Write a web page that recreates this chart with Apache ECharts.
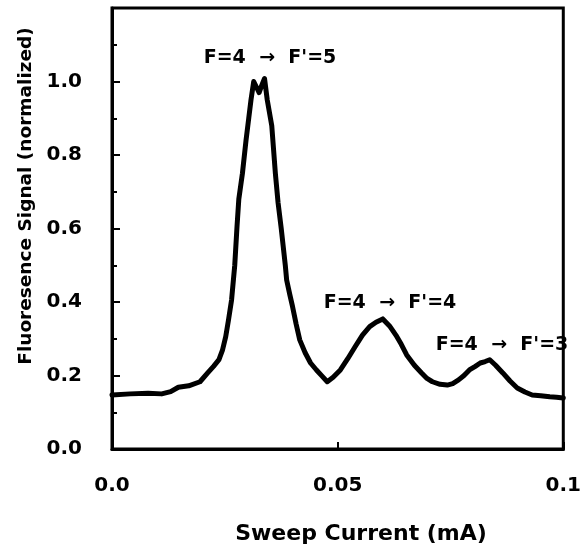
<!DOCTYPE html>
<html>
<head>
<meta charset="utf-8">
<script src="https://cdn.jsdelivr.net/npm/echarts@6/dist/echarts.min.js"></script>
<style>
html,body{margin:0;padding:0;background:#fff;}
#c{width:584px;height:556px;}
</style>
</head>
<body>
<div id="c"></div>
<script>
// Sweep current (mA)
var sweepCurrent = [0, 0.004, 0.008, 0.011, 0.013, 0.0147, 0.017, 0.0195, 0.0212, 0.0225,
  0.0237, 0.0245, 0.0252, 0.0258, 0.0265, 0.0272, 0.0277, 0.0281, 0.0289, 0.0297,
  0.0303, 0.0308, 0.0314, 0.0320, 0.0326, 0.0332, 0.0338, 0.0344, 0.0354, 0.0362,
  0.0368, 0.0375, 0.0384, 0.0387, 0.0394, 0.0400, 0.0408, 0.0416, 0.0428, 0.0440,
  0.0453, 0.0465, 0.0477, 0.0490, 0.0506, 0.0522, 0.0539, 0.0555, 0.0571, 0.0585,
  0.0600, 0.0615, 0.0629, 0.0641, 0.0653, 0.0670, 0.0686, 0.0698, 0.0710, 0.0727,
  0.0743, 0.0755, 0.0768, 0.0780, 0.0792, 0.0805, 0.0816, 0.0827, 0.0837, 0.0850,
  0.0866, 0.0882, 0.0898, 0.0915, 0.0931, 0.0950, 0.0970, 0.0985, 0.1];
// Fluorescence signal (normalized)
var signal = [0.147, 0.15, 0.152, 0.15, 0.156, 0.168, 0.172, 0.183, 0.207, 0.225,
  0.243, 0.27, 0.306, 0.35, 0.406, 0.5, 0.605, 0.68, 0.75, 0.84,
  0.90, 0.95, 1.0, 0.985, 0.97, 0.99, 1.008, 0.95, 0.88, 0.75,
  0.67, 0.6, 0.5, 0.46, 0.42, 0.388, 0.34, 0.297, 0.262, 0.234,
  0.215, 0.199, 0.183, 0.195, 0.215, 0.245, 0.279, 0.31, 0.333, 0.345,
  0.354, 0.335, 0.31, 0.285, 0.256, 0.228, 0.207, 0.192, 0.183, 0.176,
  0.174, 0.178, 0.188, 0.2, 0.215, 0.225, 0.234, 0.238, 0.243, 0.228,
  0.207, 0.185, 0.166, 0.155, 0.147, 0.145, 0.142, 0.141, 0.139];
var xTickLabels = {"0": "0.0", "0.05": "0.05", "0.1": "0.1"};
var yTickLabels = {"0": "0.0", "0.2": "0.2", "0.4": "0.4", "0.6": "0.6", "0.8": "0.8", "1": "1.0"};
var xTitle = "Sweep Current (mA)";
var yTitle = "Fluoresence Signal (normalized)";
var peakLabels = ["F=4\u2002\u2009\u2192\u2002\u2009F'=5", "F=4\u2002\u2009\u2192\u2002\u2009F'=4", "F=4\u2002\u2009\u2192\u2002\u2009F'=3"];

var pts = sweepCurrent.map(function (x, i) { return [x, signal[i]]; });
var FONT = '"DejaVu Sans", "Liberation Sans", Arial, sans-serif';

var chart = echarts.init(document.getElementById('c'), null, {renderer: 'canvas'});
chart.setOption({
  animation: false,
  backgroundColor: '#fff',
  grid: {left: 112, right: 16, top: 8, bottom: 107, show: true,
         borderColor: '#000', borderWidth: 3, backgroundColor: 'transparent'},
  xAxis: {
    type: 'value', min: 0, max: 0.1, interval: 0.05,
    axisLine: {show: true, lineStyle: {color: '#000', width: 3}},
    axisTick: {show: true, inside: true, length: 7, lineStyle: {color: '#000', width: 2}},
    splitLine: {show: false},
    axisLabel: {
      margin: 27, color: '#000', fontFamily: FONT, fontWeight: 'bold', fontSize: 20,
      formatter: function (v) { var k = String(Math.round(v * 100) / 100); return xTickLabels[k] !== undefined ? xTickLabels[k] : ''; }
    }
  },
  yAxis: {
    type: 'value', min: 0, max: 1.2, interval: 0.2,
    axisLine: {show: true, lineStyle: {color: '#000', width: 3}},
    axisTick: {show: true, inside: true, length: 8, lineStyle: {color: '#000', width: 2}},
    minorTick: {show: true, splitNumber: 2, length: 5, lineStyle: {color: '#000', width: 2}},
    splitLine: {show: false},
    axisLabel: {
      margin: 30, color: '#000', fontFamily: FONT, fontWeight: 'bold', fontSize: 20,
      formatter: function (v) { var k = String(Math.round(v * 10) / 10); return yTickLabels[k] !== undefined ? yTickLabels[k] : ''; }
    }
  },
  series: [{
    type: 'line', data: pts, showSymbol: false, smooth: false,
    lineStyle: {color: '#000', width: 5, join: 'round', cap: 'round'}
  }],
  graphic: [
    {type: 'text', x: 361, y: 534, style: {text: xTitle, font: 'bold 22px ' + FONT, fill: '#000', align: 'center', verticalAlign: 'middle'}},
    {type: 'text', x: 26, y: 196, rotation: Math.PI / 2,
     style: {text: yTitle, font: 'bold 18.5px ' + FONT, fill: '#000', align: 'center', verticalAlign: 'middle'}},
    {type: 'text', x: 270, y: 58, style: {text: peakLabels[0], font: 'bold 19px ' + FONT, fill: '#000', align: 'center', verticalAlign: 'middle'}},
    {type: 'text', x: 390, y: 303, style: {text: peakLabels[1], font: 'bold 19px ' + FONT, fill: '#000', align: 'center', verticalAlign: 'middle'}},
    {type: 'text', x: 502, y: 345, style: {text: peakLabels[2], font: 'bold 19px ' + FONT, fill: '#000', align: 'center', verticalAlign: 'middle'}}
  ]
});
</script>
</body>
</html>
